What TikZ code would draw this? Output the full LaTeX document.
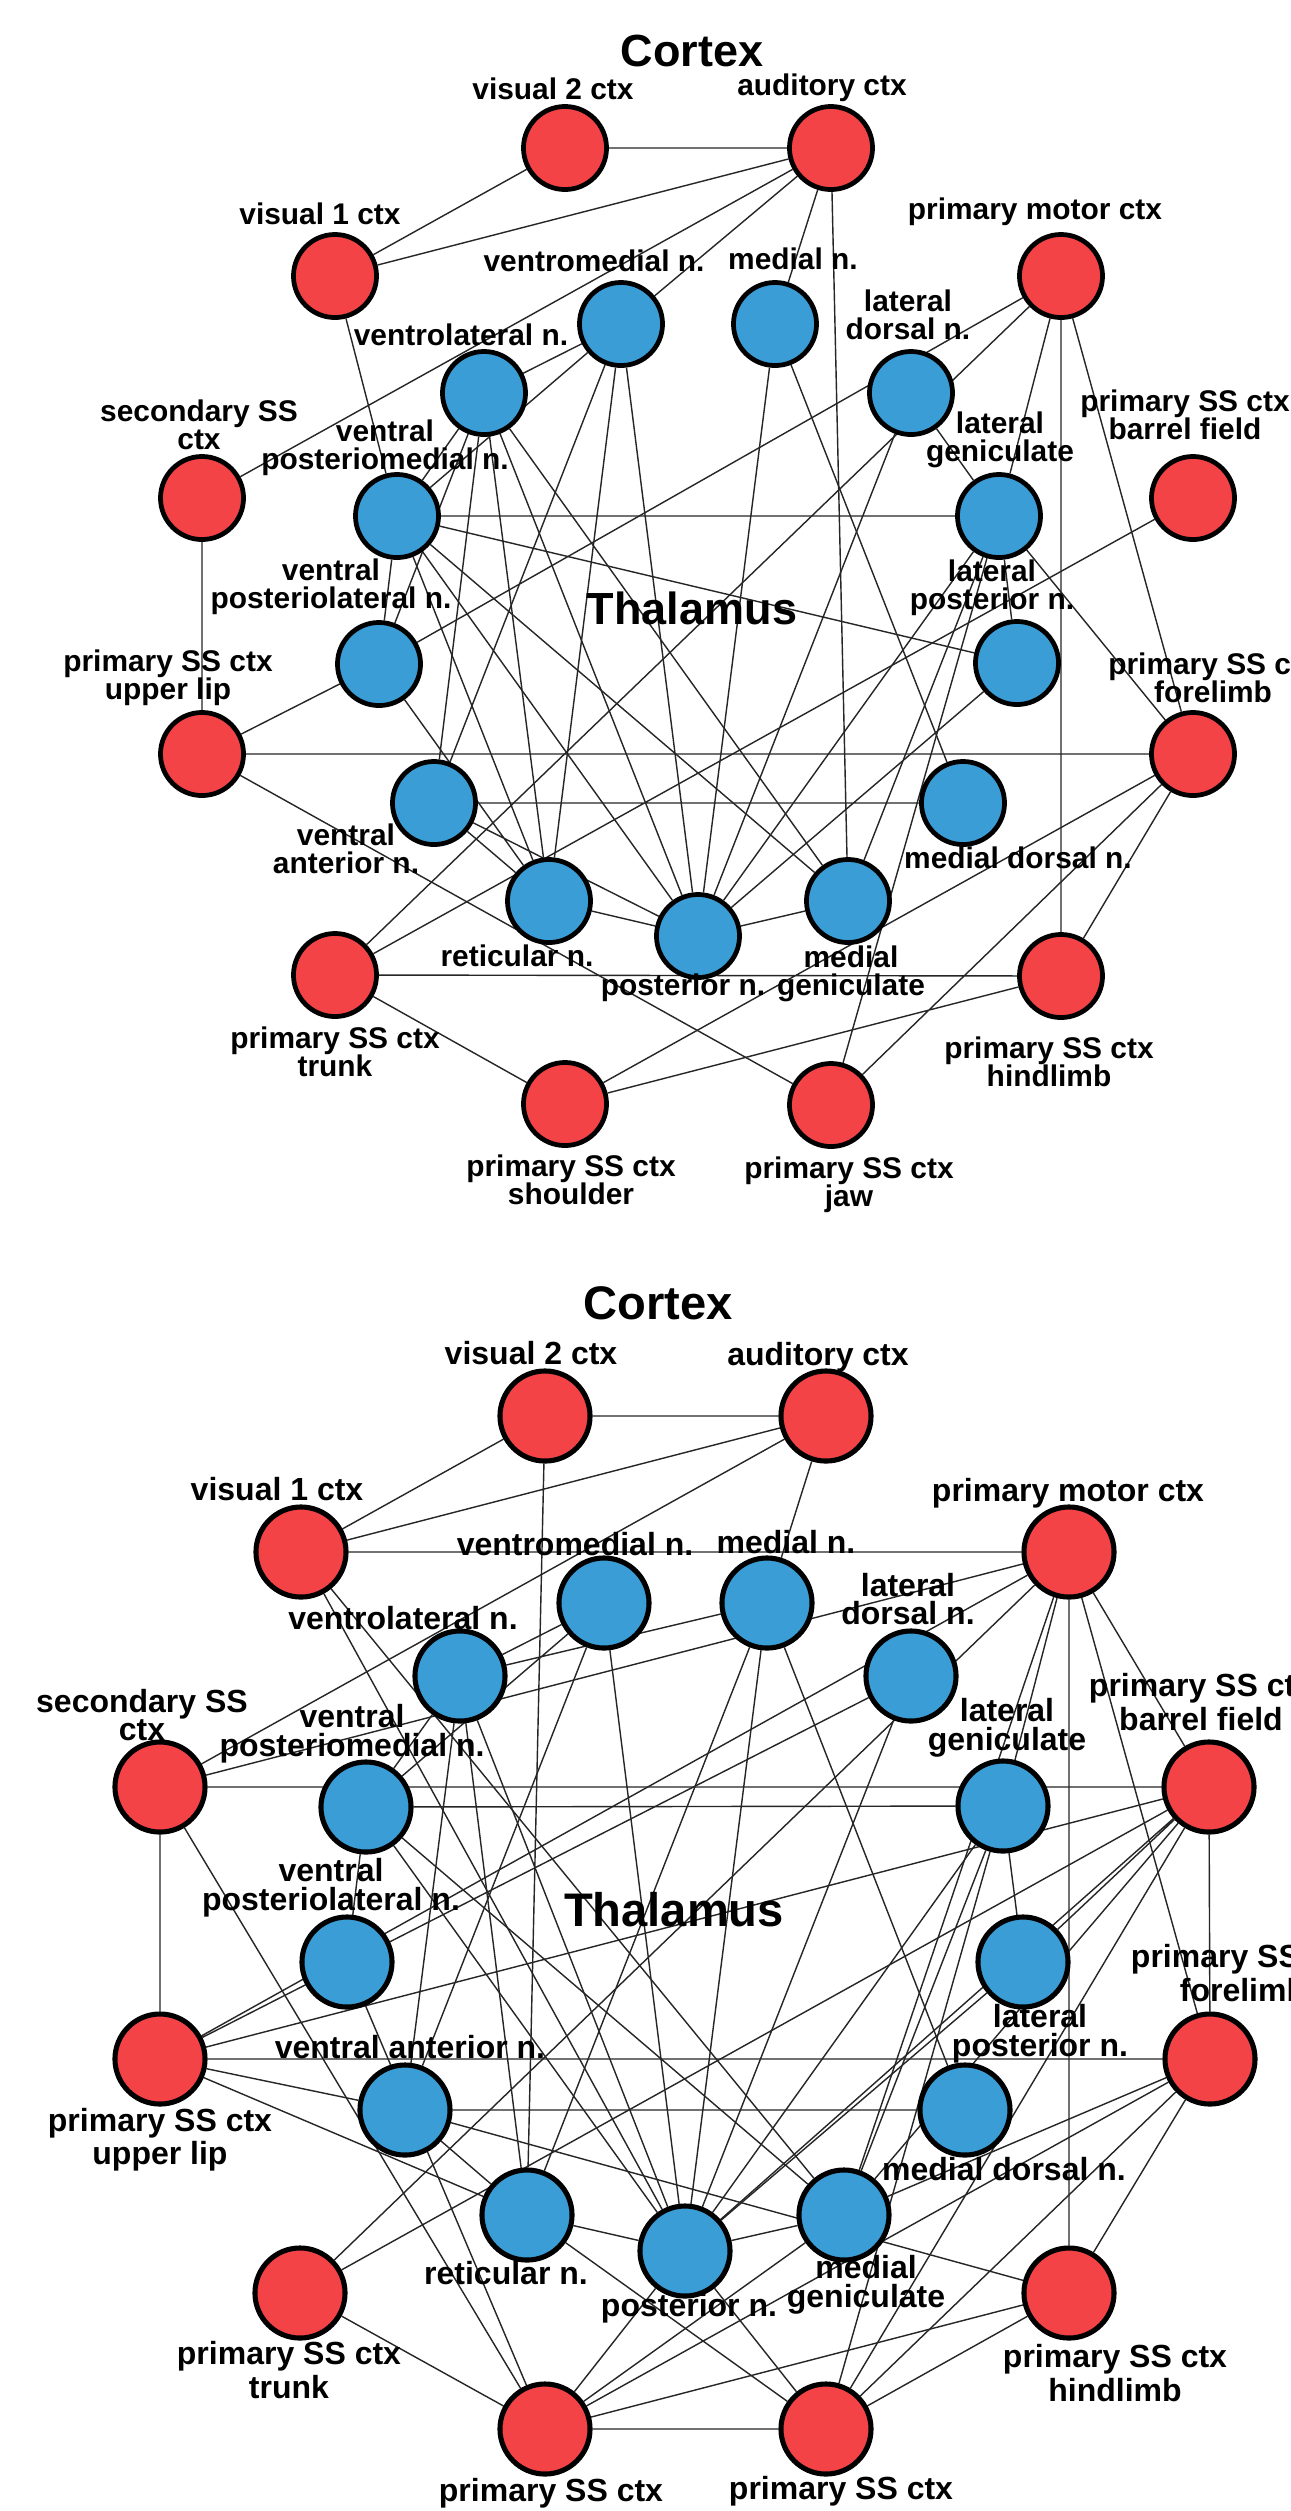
\documentclass[tikz,border=0pt]{standalone}
\usepackage{fontspec}
\setmainfont{Liberation Sans}
\usetikzlibrary{backgrounds}
\definecolor{ctxred}{HTML}{F44346}
\definecolor{thalblue}{HTML}{3A9DD6}

\begin{document}
\begin{tikzpicture}[x=0.01cm, y=-0.01cm,
  every node/.style={inner sep=0pt, align=center},
  area/.style={circle, draw=black, inner sep=0pt},
  ctx/.style={area, fill=ctxred},
  thal/.style={area, fill=thalblue},
  edge/.style={black!85, line width=0.4pt}]
\useasboundingbox (0,0) rectangle (1291,2511);
\begin{scope}[on background layer]
\fill[white] (0,0) rectangle (1291,2511);
\end{scope}

% ---------------- upper network ----------------
\begin{scope}[lbl/.style={font=\bfseries\fontsize{8.5}{8}\selectfont},
  title/.style={font=\bfseries\fontsize{12.8}{14}\selectfont},
  area/.append style={minimum size=0.83cm, line width=1.35pt}]
\node[title] (tCortex) at (692,51) {Cortex};
\node[title] (tThal) at (692,608) {Thalamus};
% cortex
\node[ctx] (tV2) at (565,148) {};
\node[ctx] (tAUD) at (831,148) {};
\node[ctx] (tV1) at (335,276) {};
\node[ctx] (tMOT) at (1061,276) {};
\node[ctx] (tSS2) at (202,498) {};
\node[ctx] (tBF) at (1193,498) {};
\node[ctx] (tUL) at (202,754) {};
\node[ctx] (tFL) at (1193,754) {};
\node[ctx] (tTR) at (335,975) {};
\node[ctx] (tHL) at (1061,976) {};
\node[ctx] (tSH) at (565,1104) {};
\node[ctx] (tJAW) at (831,1105) {};
% thalamus
\node[thal] (tVM) at (621,324) {};
\node[thal] (tMN) at (775,324) {};
\node[thal] (tLD) at (911,393) {};
\node[thal] (tVL) at (484,393) {};
\node[thal] (tVPM) at (397,516) {};
\node[thal] (tLG) at (999,516) {};
\node[thal] (tVPL) at (379,664) {};
\node[thal] (tLP) at (1017,663) {};
\node[thal] (tVA) at (434,803) {};
\node[thal] (tMD) at (963,803) {};
\node[thal] (tRT) at (549,901) {};
\node[thal] (tMG) at (848,901) {};
\node[thal] (tPO) at (698,936) {};
% labels
\node[lbl] (tV2l) at (553,89) {visual 2 ctx};
\node[lbl] (tAUDl) at (822,88) {auditory ctx};
\node[lbl] (tV1l) at (320,214) {visual 1 ctx};
\node[lbl] (tMOTl) at (1035,212) {primary motor ctx};
\node[lbl] (tVMl) at (594,261) {ventromedial n.};
\node[lbl] (tMNl) at (793,259) {medial n.};
\node[lbl] (tLDl) at (908,315) {lateral\\dorsal n.};
\node[lbl] (tVLl) at (461,335) {ventrolateral n.};
\node[lbl] (tSS2l) at (199,425) {secondary SS\\ctx};
\node[lbl] (tVPMl) at (385,448) {ventral\\posteriomedial n.};
\node[lbl] (tLGl) at (1000,440) {lateral\\geniculate};
\node[lbl] (tBFl) at (1185,415) {primary SS ctx\\barrel field};
\node[lbl] (tVPLl) at (331,587) {ventral\\posteriolateral n.};
\node[lbl] (tLPl) at (992,588) {lateral\\posterior n.};
\node[lbl] (tULl) at (168,678) {primary SS ctx\\upper lip};
\node[lbl] (tFLl) at (1213,678) {primary SS ctx\\forelimb};
\node[lbl] (tVAl) at (346,849) {ventral\\anterior n.};
\node[lbl] (tMDl) at (1018,858) {medial dorsal n.};
\node[lbl] (tRTl) at (517,956) {reticular n.};
\node[lbl] (tPOl) at (683,988) {posterior n.};
\node[lbl] (tMGl) at (851,974) {medial\\geniculate};
\node[lbl] (tTRl) at (335,1052) {primary SS ctx\\trunk};
\node[lbl] (tHLl) at (1049,1062) {primary SS ctx\\hindlimb};
\node[lbl] (tSHl) at (571,1180) {primary SS ctx\\shoulder};
\node[lbl] (tJAWl) at (849,1185) {primary SS ctx\\jaw};
\begin{scope}[on background layer]
\draw[edge] (tV2) -- (tAUD) (tV2) -- (tV1) (tV1) -- (tAUD) (tSS2) -- (tAUD);
\draw[edge] (tAUD) -- (tVM) (tAUD) -- (tMN) (tAUD) -- (tMG) (tV1) -- (tVPM);
\draw[edge] (tMOT) -- (tVPL) (tMOT) -- (tTR) (tMOT) -- (tLG) (tMOT) -- (tHL) (tMOT) -- (tFL);
\draw[edge] (tLD) -- (tLG) (tLD) -- (tPO) (tVPM) -- (tLG) (tVPM) -- (tLP);
\draw[edge] (tLG) -- (tPO) (tLG) -- (tMG) (tLG) -- (tLP) (tLG) -- (tFL) (tJAW) -- (tLG);
\draw[edge] (tBF) -- (tTR) (tLP) -- (tPO) (tMN) -- (tMD) (tMN) -- (tPO) (tVA) -- (tMD);
\draw[edge] (tUL) -- (tFL) (tUL) -- (tSS2) (tUL) -- (tVPL) (tUL) -- (tJAW);
\draw[edge] (tFL) -- (tSH) (tFL) -- (tJAW) (tFL) -- (tHL) (tHL) -- (tSH) (tHL) -- (tTR) (tTR) -- (tSH);
\draw[edge] (tVM) -- (tVL) (tVM) -- (tVPM) (tVM) -- (tVA) (tVM) -- (tRT) (tVM) -- (tPO);
\draw[edge] (tVL) -- (tVPM) (tVL) -- (tVA) (tVL) -- (tRT) (tVL) -- (tMG) (tVL) -- (tPO) (tVL) -- (tVPL);
\draw[edge] (tVPM) -- (tVPL) (tVPM) -- (tRT) (tVPM) -- (tPO) (tVPM) -- (tMG);
\draw[edge] (tVPL) -- (tRT) (tVA) -- (tRT) (tVA) -- (tPO) (tRT) -- (tPO) (tPO) -- (tMG);
\end{scope}
\end{scope}

% ---------------- lower network ----------------
\begin{scope}[lbl/.style={font=\bfseries\fontsize{9.1}{8.2}\selectfont},
  title/.style={font=\bfseries\fontsize{13.4}{15}\selectfont},
  area/.append style={minimum size=0.9cm, line width=1.45pt}]
\node[title] (bCortex) at (658,1303) {Cortex};
\node[title] (bThal) at (674,1910) {Thalamus};
% cortex
\node[ctx] (bV2) at (545,1416) {};
\node[ctx] (bAUD) at (826,1416) {};
\node[ctx] (bV1) at (301,1552) {};
\node[ctx] (bMOT) at (1069,1552) {};
\node[ctx] (bSS2) at (160,1787) {};
\node[ctx] (bBF) at (1209,1787) {};
\node[ctx] (bUL) at (160,2059) {};
\node[ctx] (bFL) at (1210,2059) {};
\node[ctx] (bTR) at (300,2293) {};
\node[ctx] (bHL) at (1069,2293) {};
\node[ctx] (bSH) at (545,2429) {};
\node[ctx] (bJAW) at (826,2429) {};
% thalamus
\node[thal] (bVM) at (604,1603) {};
\node[thal] (bMN) at (767,1603) {};
\node[thal] (bLD) at (911,1676) {};
\node[thal] (bVL) at (460,1676) {};
\node[thal] (bVPM) at (366,1807) {};
\node[thal] (bLG) at (1003,1806) {};
\node[thal] (bVPL) at (347,1962) {};
\node[thal] (bLP) at (1023,1962) {};
\node[thal] (bVA) at (405,2110) {};
\node[thal] (bMD) at (965,2110) {};
\node[thal] (bRT) at (527,2215) {};
\node[thal] (bMG) at (844,2215) {};
\node[thal] (bPO) at (685,2251) {};
% labels
\node[lbl] (bV2l) at (531,1353) {visual 2 ctx};
\node[lbl] (bAUDl) at (818,1357) {auditory ctx};
\node[lbl] (bV1l) at (277,1489) {visual 1 ctx};
\node[lbl] (bMOTl) at (1068,1493) {primary motor ctx};
\node[lbl] (bVMl) at (575,1544) {ventromedial n.};
\node[lbl] (bMNl) at (786,1542) {medial n.};
\node[lbl] (bLDl) at (908,1599) {lateral\\dorsal n.};
\node[lbl] (bVLl) at (403,1618) {ventrolateral n.};
\node[lbl] (bSS2l) at (142,1715) {secondary SS\\ctx};
\node[lbl] (bVPMl) at (352,1734) {ventral\\posteriomedial n.};
\node[lbl] (bLGl) at (1007,1728) {lateral\\geniculate};
\node[lbl] (bBFl) at (1201,1702) {primary SS ctx\\barrel field};
\node[lbl] (bVPLl) at (331,1888) {ventral\\posteriolateral n.};
\node[lbl] (bULl) at (160,2140) {primary SS ctx\\upper lip};
\node[lbl] (bFLl) at (1243,1973) {primary SS ctx\\forelimb};
\node[lbl] (bVAl) at (410,2047) {ventral anterior n.};
\node[lbl] (bLPl) at (1040,2034) {lateral\\posterior n.};
\node[lbl] (bMDl) at (1004,2169) {medial dorsal n.};
\node[lbl] (bRTl) at (506,2273) {reticular n.};
\node[lbl] (bMGl) at (866,2285) {medial\\geniculate};
\node[lbl] (bPOl) at (689,2308) {posterior n.};
\node[lbl] (bTRl) at (289,2370) {primary SS ctx\\trunk};
\node[lbl] (bHLl) at (1115,2373) {primary SS ctx\\hindlimb};
\node[lbl] (bSHl) at (551,2493) {primary SS ctx};
\node[lbl] (bJAWl) at (841,2491) {primary SS ctx};
\begin{scope}[on background layer]
\draw[edge] (bV2) -- (bAUD) (bV2) -- (bV1) (bV1) -- (bAUD) (bV1) -- (bMOT) (bV2) -- (bRT);
\draw[edge] (bV1) -- (bPO) (bV1) -- (bMG) (bAUD) -- (bMN);
\draw[edge] (bSS2) -- (bAUD) (bSS2) -- (bMOT) (bSS2) -- (bBF) (bSS2) -- (bUL) (bSS2) -- (bSH);
\draw[edge] (bMOT) -- (bTR) (bMOT) -- (bMG) (bMOT) -- (bLG) (bMOT) -- (bHL) (bMOT) -- (bFL) (bMOT) -- (bBF);
\draw[edge] (bUL) -- (bMOT) (bUL) -- (bLD) (bUL) -- (bBF) (bUL) -- (bFL) (bUL) -- (bVA) (bUL) -- (bRT);
\draw[edge] (bVL) -- (bVM) (bVL) -- (bMN) (bVL) -- (bVPM) (bVM) -- (bVPM) (bVL) -- (bVA) (bVL) -- (bRT) (bVL) -- (bPO);
\draw[edge] (bVPM) -- (bLG) (bVPM) -- (bVPL) (bVPM) -- (bPO) (bVPM) -- (bMG) (bVPL) -- (bSH);
\draw[edge] (bVM) -- (bVA) (bVM) -- (bPO) (bVA) -- (bMD) (bVA) -- (bHL) (bVA) -- (bRT);
\draw[edge] (bMN) -- (bRT) (bMN) -- (bMD) (bMN) -- (bPO) (bTR) -- (bBF) (bTR) -- (bSH);
\draw[edge] (bRT) -- (bPO) (bRT) -- (bJAW) (bPO) -- (bLP) (bPO) -- (bLG) (bPO) -- (bLD) (bPO) -- (bMG);
\draw[edge] (bPO) -- (bJAW) (bPO) -- (bSH) (bMG) -- (bFL) (bLG) -- (bMG) (bLG) -- (bLP) (bSH) -- (bMG);
\draw[edge] (bJAW) -- (bLG) (bJAW) -- (bBF) (bJAW) -- (bFL) (bJAW) -- (bHL) (bSH) -- (bJAW);
\draw[edge] (bFL) -- (bHL) (bHL) -- (bSH) (bFL) -- (bSH) (bBF) -- (bFL) (bBF) -- (bLP) (bBF) -- (bPO) (bBF) -- (bMG);
\end{scope}
\end{scope}
\end{tikzpicture}
\end{document}
